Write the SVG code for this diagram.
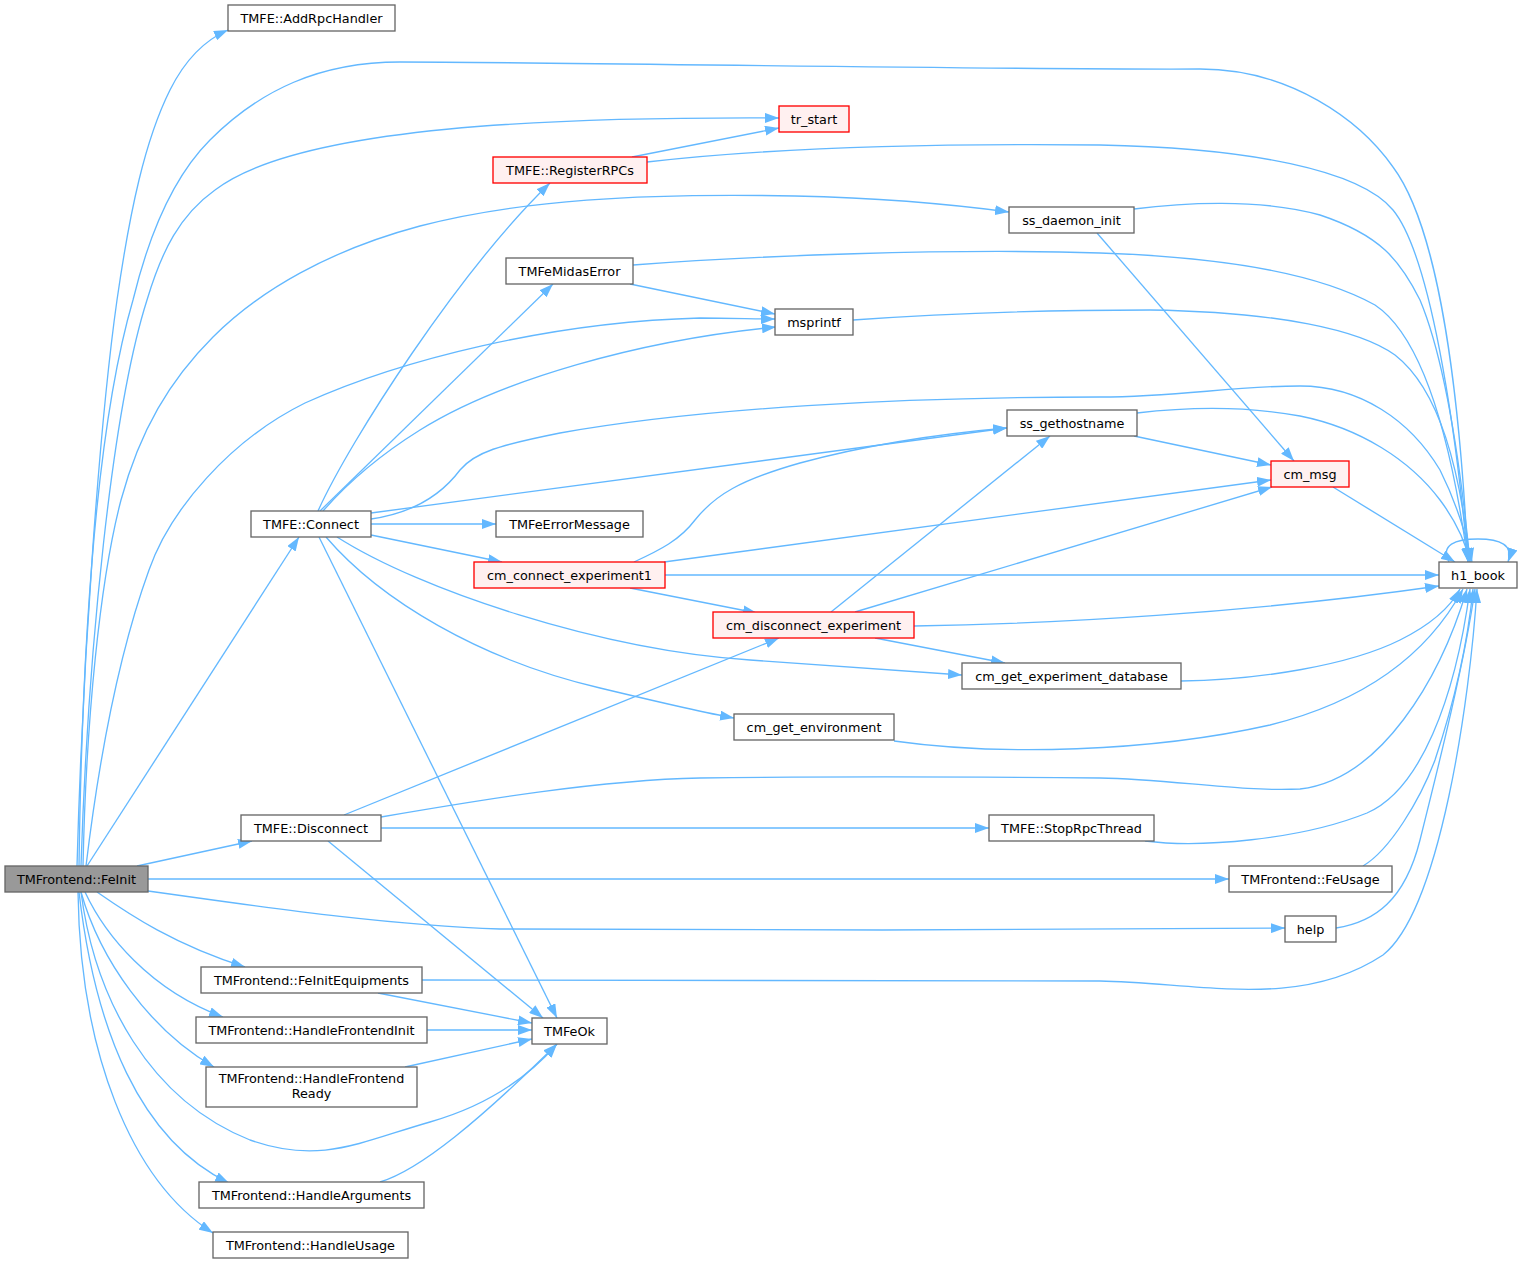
<svg xmlns="http://www.w3.org/2000/svg" width="1523" height="1263" viewBox="0 0 1523 1263">
<style>
.n rect{fill:#ffffff;stroke:#666666;stroke-width:1.33}
.r rect{fill:#fff0f0;stroke:#ff0000}
.root rect{fill:#999999}
text{font-family:"DejaVu Sans","Liberation Sans",sans-serif;font-size:12.8px;text-anchor:middle;fill:#000000}
#edges path{fill:none;stroke:#63b8ff;stroke-width:1.33;marker-end:url(#a)}
</style>
<defs>
<marker id="a" markerUnits="userSpaceOnUse" viewBox="0 0 14 10" markerWidth="14" markerHeight="10" refX="14" refY="5" orient="auto">
<path d="M0,0 L14,5 L0,10 z" fill="#63b8ff"/>
</marker>
</defs>
<rect width="1523" height="1263" fill="#ffffff"/>
<g id="edges">
<path d="M77,866 C83,650 100,420 117,300 C130,210 145,140 170,90 C185,60 205,40 228,30"/>
<path d="M79,866 C82,650 95,430 133,300 C150,230 175,175 210,140 C260,90 320,62 400,62 C550,62 1000,70 1200,69 C1290,69 1360,120 1393,167 C1440,230 1460,400 1468,562"/>
<path d="M81,866 C88,650 112,410 147,300 C162,250 180,215 215,190 C300,125 560,117 779,118"/>
<path d="M83,866 C86,720 100,580 121,500 C140,430 170,380 213,337 C260,290 330,250 420,226 C520,200 640,193 795,196 C880,198 950,204 1009,212"/>
<path d="M86,866 C100,750 120,650 149,570 C170,510 230,440 305,403 C400,360 550,322 700,318 C730,318 755,319 775,319"/>
<path d="M87,866 L299,537"/>
<path d="M137,866 L252,841"/>
<path d="M148,879 L1229,879"/>
<path d="M148,891 C250,905 380,925 500,929 C700,931 1100,930 1285,928"/>
<path d="M97,892 C130,915 175,945 245,967"/>
<path d="M85,892 C105,935 150,990 223,1017"/>
<path d="M81,892 C100,960 150,1030 214,1067"/>
<path d="M81,892 C95,1000 150,1100 250,1140 C320,1165 360,1142 430,1122 C490,1105 530,1075 557,1044"/>
<path d="M79,892 C95,1030 140,1140 229,1183"/>
<path d="M78,892 C80,1050 130,1180 213,1233"/>
<path d="M318,511 C350,440 460,270 550,183"/>
<path d="M320,511 L553,284"/>
<path d="M323,511 C350,480 380,455 420,430 C500,380 640,340 776,327"/>
<path d="M371,519 C420,512 445,490 460,470 C475,452 500,445 560,433 C700,408 900,397 1100,397 C1180,397 1230,386 1300,386 C1360,386 1410,420 1440,470 C1455,500 1465,530 1472,562"/>
<path d="M371,513 L1007,428"/>
<path d="M371,524 L496,524"/>
<path d="M371,535 L502,562"/>
<path d="M337,537 C420,590 600,650 750,660 C850,667 920,672 962,675"/>
<path d="M326,537 C380,600 480,660 600,688 C650,700 700,712 734,718"/>
<path d="M319,537 L557,1018"/>
<path d="M632,157 L779,128"/>
<path d="M647,162 C750,150 900,143 1100,145 C1250,148 1360,170 1393,210 C1430,255 1455,420 1468,562"/>
<path d="M630,284 L775,314"/>
<path d="M633,265 C750,256 950,248 1100,253 C1250,258 1330,280 1375,305 C1420,335 1450,430 1468,562"/>
<path d="M853,320 C950,313 1050,310 1150,310 C1280,312 1360,330 1395,355 C1440,390 1460,470 1470,562"/>
<path d="M1134,209 C1180,203 1260,198 1320,215 C1380,235 1400,260 1420,300 C1445,360 1460,460 1470,562"/>
<path d="M1097,233 L1294,461"/>
<path d="M1137,413 C1180,408 1240,405 1300,416 C1360,428 1410,460 1440,500 C1455,520 1465,540 1470,562"/>
<path d="M1134,436 L1271,465"/>
<path d="M1333,487 L1455,562"/>
<path d="M1449,562 C1440,545 1455,539 1478,539 C1500,539 1514,545 1508,562"/>
<path d="M634,562 C660,550 680,540 695,520 C715,495 740,480 800,463 C870,444 950,433 1007,428"/>
<path d="M664,562 L1271,480"/>
<path d="M665,575 L1439,575"/>
<path d="M630,588 L757,613"/>
<path d="M831,612 L1050,436"/>
<path d="M855,612 L1272,487"/>
<path d="M914,626 C1050,624 1250,613 1439,586"/>
<path d="M875,638 L1005,663"/>
<path d="M1181,681 C1260,680 1350,665 1400,640 C1430,625 1450,608 1460,589"/>
<path d="M894,741 C1000,756 1150,752 1270,725 C1370,700 1430,650 1463,589"/>
<path d="M344,815 L779,638"/>
<path d="M381,817 C480,800 600,780 700,778 C850,776 1000,777 1100,778 C1170,779 1240,792 1300,789 C1380,780 1440,680 1467,589"/>
<path d="M381,828 L989,828"/>
<path d="M328,841 L543,1018"/>
<path d="M1145,841 C1200,848 1300,840 1367,813 C1420,790 1455,700 1470,589"/>
<path d="M1363,866 C1390,850 1420,800 1435,760 C1455,700 1468,640 1473,589"/>
<path d="M1336,928 C1375,922 1405,900 1420,840 C1440,760 1465,660 1475,589"/>
<path d="M422,980 L1100,981 C1200,983 1300,1010 1383,955 C1440,910 1470,700 1477,589"/>
<path d="M378,993 L532,1023"/>
<path d="M427,1030 L532,1030"/>
<path d="M405,1067 L532,1039"/>
<path d="M380,1182 C420,1170 480,1120 557,1044"/>
</g>
<g id="FeInit" class="n root"><rect x="5" y="866" width="143" height="26"/><text x="76.5" y="883.5">TMFrontend::FeInit</text></g>
<g id="AddRpcHandler" class="n"><rect x="228" y="5" width="167" height="26"/><text x="311.5" y="22.5">TMFE::AddRpcHandler</text></g>
<g id="tr_start" class="n r"><rect x="779" y="106" width="70" height="26"/><text x="814" y="123.5">tr_start</text></g>
<g id="RegisterRPCs" class="n r"><rect x="493" y="157" width="154" height="26"/><text x="570" y="174.5">TMFE::RegisterRPCs</text></g>
<g id="ss_daemon_init" class="n"><rect x="1009" y="207" width="125" height="26"/><text x="1071.5" y="224.5">ss_daemon_init</text></g>
<g id="TMFeMidasError" class="n"><rect x="506" y="258" width="127" height="26"/><text x="569.5" y="275.5">TMFeMidasError</text></g>
<g id="msprintf" class="n"><rect x="775" y="309" width="78" height="26"/><text x="814" y="326.5">msprintf</text></g>
<g id="ss_gethostname" class="n"><rect x="1007" y="410" width="130" height="26"/><text x="1072" y="427.5">ss_gethostname</text></g>
<g id="cm_msg" class="n r"><rect x="1271" y="461" width="78" height="26"/><text x="1310" y="478.5">cm_msg</text></g>
<g id="Connect" class="n"><rect x="251" y="511" width="120" height="26"/><text x="311" y="528.5">TMFE::Connect</text></g>
<g id="TMFeErrorMessage" class="n"><rect x="496" y="511" width="147" height="26"/><text x="569.5" y="528.5">TMFeErrorMessage</text></g>
<g id="cm_connect_experiment1" class="n r"><rect x="474" y="562" width="191" height="26"/><text x="569.5" y="579.5">cm_connect_experiment1</text></g>
<g id="h1_book" class="n"><rect x="1439" y="562" width="78" height="26"/><text x="1478" y="579.5">h1_book</text></g>
<g id="cm_disconnect_experiment" class="n r"><rect x="713" y="612" width="201" height="26"/><text x="813.5" y="629.5">cm_disconnect_experiment</text></g>
<g id="cm_get_experiment_database" class="n"><rect x="962" y="663" width="219" height="26"/><text x="1071.5" y="680.5">cm_get_experiment_database</text></g>
<g id="cm_get_environment" class="n"><rect x="734" y="714" width="160" height="26"/><text x="814" y="731.5">cm_get_environment</text></g>
<g id="Disconnect" class="n"><rect x="241" y="815" width="140" height="26"/><text x="311" y="832.5">TMFE::Disconnect</text></g>
<g id="StopRpcThread" class="n"><rect x="989" y="815" width="165" height="26"/><text x="1071.5" y="832.5">TMFE::StopRpcThread</text></g>
<g id="FeUsage" class="n"><rect x="1229" y="866" width="163" height="26"/><text x="1310.5" y="883.5">TMFrontend::FeUsage</text></g>
<g id="help" class="n"><rect x="1285" y="916" width="51" height="26"/><text x="1310.5" y="933.5">help</text></g>
<g id="FeInitEquipments" class="n"><rect x="201" y="967" width="221" height="26"/><text x="311.5" y="984.5">TMFrontend::FeInitEquipments</text></g>
<g id="HandleFrontendInit" class="n"><rect x="196" y="1017" width="231" height="26"/><text x="311.5" y="1034.5">TMFrontend::HandleFrontendInit</text></g>
<g id="TMFeOk" class="n"><rect x="532" y="1018" width="75" height="26"/><text x="569.5" y="1035.5">TMFeOk</text></g>
<g id="HandleFrontendReady" class="n"><rect x="206" y="1067" width="211" height="40"/><text x="311.5" y="1082.5">TMFrontend::HandleFrontend</text><text x="311.5" y="1097.5">Ready</text></g>
<g id="HandleArguments" class="n"><rect x="199" y="1182" width="225" height="26"/><text x="311.5" y="1199.5">TMFrontend::HandleArguments</text></g>
<g id="HandleUsage" class="n"><rect x="213" y="1232" width="195" height="26"/><text x="310.5" y="1249.5">TMFrontend::HandleUsage</text></g>
</svg>
